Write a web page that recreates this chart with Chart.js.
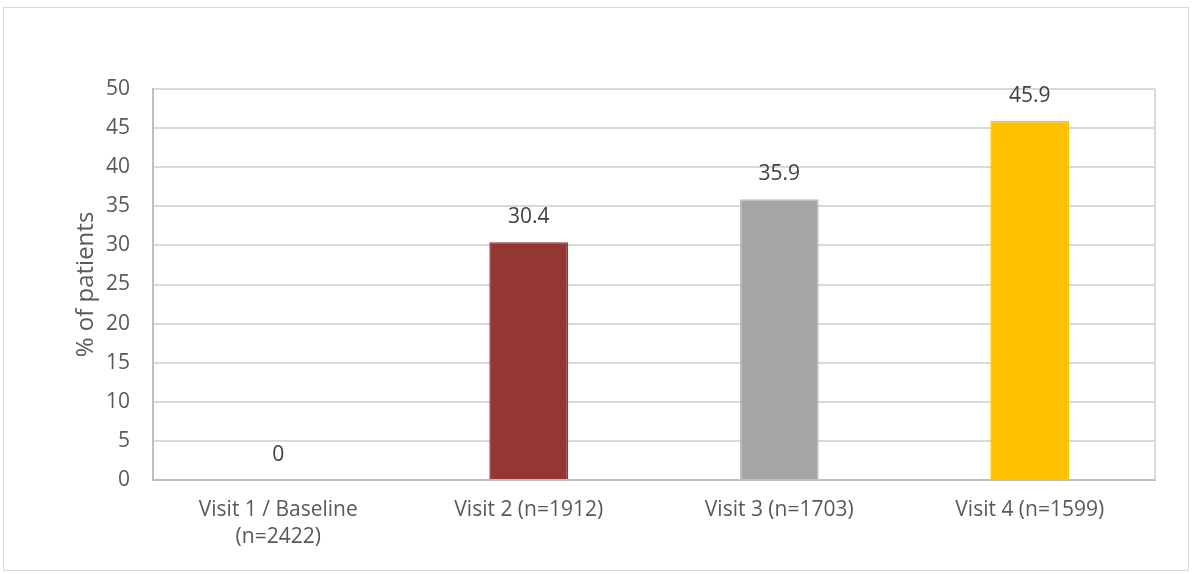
<!DOCTYPE html>
<html>
<head>
<meta charset="utf-8">
<script src="https://cdn.jsdelivr.net/npm/chart.js@4/dist/chart.umd.min.js"></script>
<style>
  html, body { margin: 0; padding: 0; background: #fff; }
  #frame { position: absolute; left: 3px; top: 7px; width: 1184px; height: 562px; border: 1px solid #d9d9d9; }
  #wrap { position: absolute; left: 0; top: 0; width: 1192px; height: 574px; }
</style>
</head>
<body>
<div id="frame"></div>
<div id="wrap"><canvas id="c" width="1192" height="574"></canvas></div>
<script>
const categories = [["Visit 1 / Baseline", "(n=2422)"], "Visit 2 (n=1912)", "Visit 3 (n=1703)", "Visit 4 (n=1599)"];
const values = [0, 30.4, 35.9, 45.9];
const barColors = ["#4472C4", "#943634", "#A5A5A5", "#FFC000"];
const barBorders = ["#4472C4", "#943634", "#BFBFBF", "#FFC000"];
const yTicks = [0, 5, 10, 15, 20, 25, 30, 35, 40, 45, 50];
const yTitle = "% of patients";

const FONT = "'Open Sans', 'Liberation Sans', sans-serif";

const valueLabels = {
  id: 'valueLabels',
  afterDatasetsDraw(chart) {
    const ctx = chart.ctx;
    const meta = chart.getDatasetMeta(0);
    ctx.save();
    ctx.font = "21px " + FONT;
    ctx.fillStyle = "#404040";
    ctx.textAlign = "center";
    ctx.textBaseline = "middle";
    meta.data.forEach((bar, i) => {
      ctx.fillText(String(values[i]), bar.x, bar.y - 25);
    });
    ctx.restore();
  }
};

const frameLines = {
  id: 'frameLines',
  beforeDatasetsDraw(chart) {
    const a = chart.chartArea;
    const ctx = chart.ctx;
    ctx.save();
    ctx.strokeStyle = "#d9d9d9";
    ctx.lineWidth = 2;
    ctx.beginPath();
    ctx.moveTo(a.right, a.top);
    ctx.lineTo(a.right, a.bottom);
    ctx.stroke();
    ctx.restore();
  }
};

new Chart(document.getElementById('c'), {
  type: 'bar',
  data: {
    labels: categories,
    datasets: [{
      data: values,
      backgroundColor: barColors,
      borderColor: barBorders,
      borderWidth: 1.5,
      barPercentage: 0.315,
      categoryPercentage: 1.0
    }]
  },
  options: {
    responsive: false,
    animation: false,
    devicePixelRatio: 1,
    layout: { padding: { left: 72, right: 37, top: 89, bottom: 0 } },
    plugins: { legend: { display: false }, tooltip: { enabled: false } },
    scales: {
      x: {
        grid: { display: false, drawTicks: false },
        border: { color: "#bfbfbf", width: 2 },
        ticks: {
          color: "#595959",
          font: { family: FONT, size: 21, lineHeight: 1.3 },
          padding: 16,
          maxRotation: 0,
          autoSkip: false
        },
        afterFit(s) { s.height = 574 - 480; }
      },
      y: {
        min: 0, max: 50,
        afterBuildTicks(s) { s.ticks = yTicks.map(v => ({ value: v })); },
        grid: { color: "#d9d9d9", lineWidth: 2, drawTicks: false },
        border: { color: "#bfbfbf", width: 2 },
        ticks: {
          color: "#595959",
          font: { family: FONT, size: 21 },
          padding: 23
        },
        title: {
          display: true,
          text: yTitle,
          color: "#595959",
          font: { family: FONT, size: 24 },
          padding: { top: 0, bottom: 0 }
        },
        afterFit(s) { s.width = 153 - 72; }
      }
    }
  },
  plugins: [frameLines, valueLabels]
});
</script>
</body>
</html>
